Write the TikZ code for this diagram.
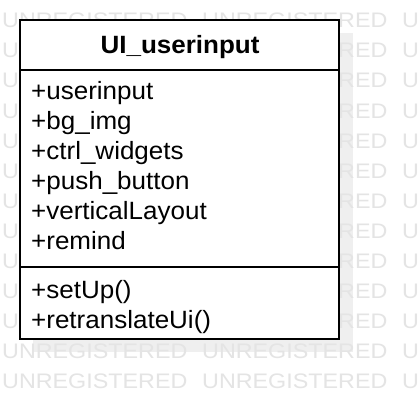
\documentclass[tikz,border=0pt]{standalone}
\usepackage{graphicx}
\usepackage{fontspec}
\setmainfont{Liberation Sans}
\definecolor{wm}{HTML}{E4E4E4}
\definecolor{shadowgray}{HTML}{EFEFEF}
\newcommand{\wide}[1]{\scalebox{1.04}[1]{#1}}
\begin{document}
\begin{tikzpicture}[x=1pt,y=-1pt,
  wmtext/.style={text=wm,font=\fontsize{21}{21}\selectfont,anchor=base west,inner sep=0pt},
  member/.style={font=\fontsize{25}{25}\selectfont,anchor=base west,inner sep=0pt},
  titletext/.style={font=\fontsize{25}{25}\selectfont\bfseries,anchor=base,inner sep=0pt},
  boxline/.style={line width=2pt,draw=black}]
\useasboundingbox (0,0) rectangle (418,420);
\fill[white] (0,0) rectangle (418,420);
% shadow
\fill[shadowgray] (33,33) rectangle (353,352);
% watermark
\begin{scope}
\clip (0,0) rectangle (418,420);
\foreach \r in {-1,...,12}{
  \foreach \c in {0,1,2}{
    \node[wmtext] (wm-\r-\c) at ({2+200*\c},{28+30*\r}) {\scalebox{1.11}[1]{UNREGISTERED}};
  }
}
\end{scope}
% class box
\coordinate (tl) at (20,20);
\coordinate (br) at (338.5,339);
\fill[white] (tl) rectangle (br);
\coordinate (s1l) at (20,70);
\coordinate (s1r) at (338.5,70);
\coordinate (s2l) at (20,266.5);
\coordinate (s2r) at (338.5,266.5);
\draw[boxline] (s1l) -- (s1r);
\draw[boxline] (s2l) -- (s2r);
\draw[boxline] (tl) rectangle (br);
\node[titletext] (title) at (180,53) {\wide{UI\_userinput}};
\node[member] (a1) at (31,99) {\wide{+userinput}};
\node[member] (a2) at (31,129) {\wide{+bg\_img}};
\node[member] (a3) at (31,159) {\wide{+ctrl\_widgets}};
\node[member] (a4) at (31,189) {\wide{+push\_button}};
\node[member] (a5) at (31,219) {\wide{+verticalLayout}};
\node[member] (a6) at (31,249) {\wide{+remind}};
\node[member] (o1) at (31,298) {\wide{+setUp()}};
\node[member] (o2) at (31,328) {\wide{+retranslateUi()}};
\end{tikzpicture}
\end{document}
